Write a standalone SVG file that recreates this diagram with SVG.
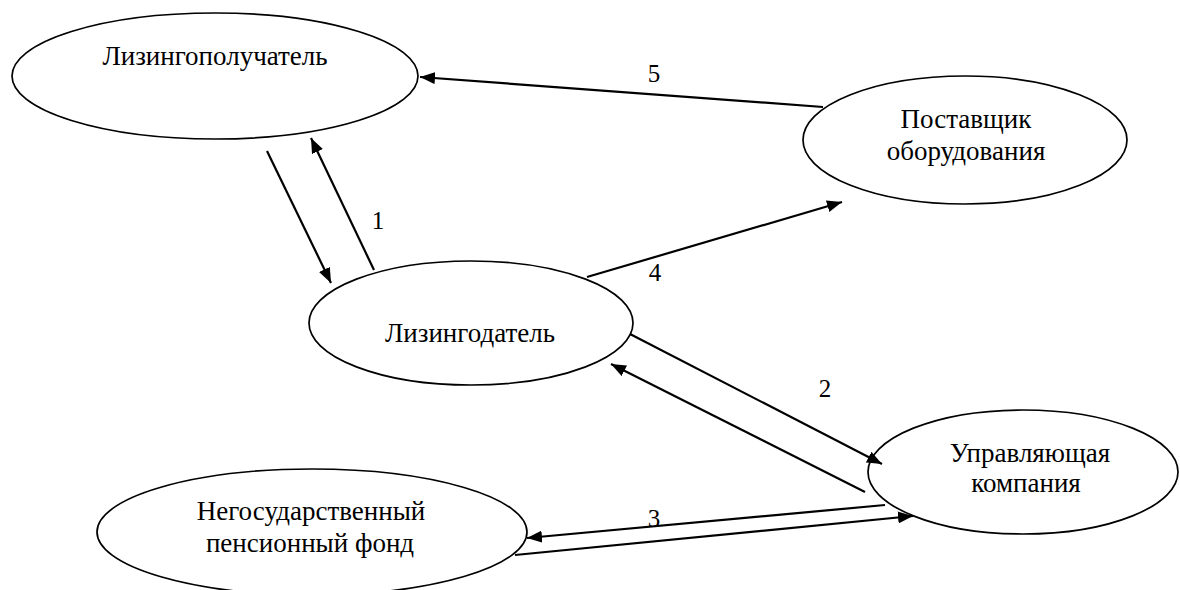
<svg xmlns="http://www.w3.org/2000/svg" width="1180" height="590" viewBox="0 0 1180 590">
<style>
.node ellipse{fill:#fff;stroke:#000;stroke-width:1.7}
.node text{font-family:"Liberation Serif","Times New Roman",serif;font-size:27px;fill:#000;text-anchor:middle}
.conn line{stroke:#000;stroke-width:2.2;marker-end:url(#ah)}
.lbl{font-family:"Liberation Serif","Times New Roman",serif;font-size:25px;fill:#000;text-anchor:middle}
</style>
<defs>
<marker id="ah" markerUnits="userSpaceOnUse" markerWidth="16" markerHeight="12" refX="15" refY="6" orient="auto">
<path d="M0,0 L15,6 L0,12 z" fill="#000"/>
</marker>
</defs>
<rect width="1180" height="590" fill="#fff"/>
<g id="n-lessee" class="node">
<ellipse cx="215" cy="76" rx="203" ry="63"/>
<text x="215" y="65">Лизингополучатель</text>
</g>
<g id="n-supplier" class="node">
<ellipse cx="965" cy="140" rx="162" ry="64"/>
<text x="966" y="128">Поставщик</text>
<text x="966" y="160">оборудования</text>
</g>
<g id="n-lessor" class="node">
<ellipse cx="471" cy="323" rx="162" ry="62"/>
<text x="470" y="342">Лизингодатель</text>
</g>
<g id="n-mc" class="node">
<ellipse cx="1023" cy="472" rx="155" ry="62"/>
<text x="1030" y="462">Управляющая</text>
<text x="1026" y="492">компания</text>
</g>
<g id="n-npf" class="node">
<ellipse cx="312" cy="532" rx="215" ry="63"/>
<text x="311" y="520">Негосударственный</text>
<text x="310" y="552">пенсионный фонд</text>
</g>
<g id="connectors" class="conn">
<line x1="267" y1="151" x2="331" y2="283"/>
<line x1="374" y1="270" x2="311" y2="138"/>
<line x1="823" y1="107" x2="420" y2="77"/>
<line x1="587" y1="277" x2="842" y2="202"/>
<line x1="630" y1="334" x2="882" y2="464"/>
<line x1="865" y1="492" x2="611" y2="364"/>
<line x1="885" y1="505" x2="527" y2="538"/>
<line x1="515" y1="555" x2="913" y2="516"/>
</g>
<g id="labels">
<text class="lbl" x="378" y="229">1</text>
<text class="lbl" x="825" y="397">2</text>
<text class="lbl" x="654" y="527">3</text>
<text class="lbl" x="655" y="281">4</text>
<text class="lbl" x="654" y="82">5</text>
</g>
</svg>
